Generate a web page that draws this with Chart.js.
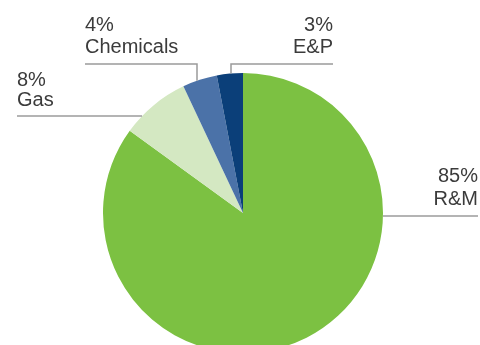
<!DOCTYPE html>
<html lang="en">
<head>
  <meta charset="UTF-8">
  <title>Segment share pie</title>
  <script src="https://cdn.jsdelivr.net/npm/chart.js"></script>
  <style>
    body {
      margin: 0;
      background: #ffffff;
      overflow: hidden; /* pie runs off the bottom edge */
    }
    .wrap {
      width: 480px;
      height: 360px;
    }
  </style>
</head>
<body>

<div class="wrap">
  <canvas id="pieChart" width="480" height="360"></canvas>
</div>

<script>
  // data
  const categories = ['R&M', 'Gas', 'Chemicals', 'E&P'];
  const shares = [85, 8, 4, 3];
  const sliceColors = ['#7cc142', '#d4e8c2', '#4b72a8', '#0b3f79'];

  // where each label + leader line sits (text left/right edge, baselines, line y)
  const labelSpots = [
    { align: 'right', x: 478, pctY: 182, nameY: 205, lineY: 216, side: 'right' },
    { align: 'left',  x: 17,  pctY: 86,  nameY: 106, lineY: 116, side: 'left' },
    { align: 'left',  x: 85,  pctY: 31,  nameY: 53,  lineY: 64,  side: 'down', downX: 197 },
    { align: 'right', x: 333, pctY: 31,  nameY: 53,  lineY: 64,  side: 'down', downX: 231 }
  ];

  const leaderLabels = {
    id: 'leaderLabels',
    afterDatasetsDraw(chart) {
      const ctx = chart.ctx;
      const arc = chart.getDatasetMeta(0).data[0];
      const cx = arc.x, cy = arc.y, r = arc.outerRadius;

      ctx.save();
      ctx.strokeStyle = '#9b9b9b';
      ctx.lineWidth = 1.5;
      labelSpots.forEach((s, i) => {
        ctx.beginPath();
        if (s.side === 'right') {
          const edge = cx + Math.sqrt(r * r - (s.lineY - cy) ** 2);
          ctx.moveTo(s.x, s.lineY);
          ctx.lineTo(edge, s.lineY);
        } else if (s.side === 'left') {
          const edge = cx - Math.sqrt(r * r - (s.lineY - cy) ** 2);
          ctx.moveTo(s.x, s.lineY);
          ctx.lineTo(edge, s.lineY);
        } else {
          const edge = cy - Math.sqrt(r * r - (s.downX - cx) ** 2);
          ctx.moveTo(s.x, s.lineY);
          ctx.lineTo(s.downX, s.lineY);
          ctx.lineTo(s.downX, edge);
        }
        ctx.stroke();

        ctx.fillStyle = '#3b3b3b';
        ctx.font = '20px "Liberation Sans", Arial, sans-serif';
        ctx.textAlign = s.align;
        ctx.textBaseline = 'alphabetic';
        ctx.fillText(shares[i] + '%', s.x, s.pctY);
        ctx.fillText(categories[i], s.x, s.nameY);
      });
      ctx.restore();
    }
  };

  new Chart(document.getElementById('pieChart'), {
    type: 'pie',
    data: {
      labels: categories,
      datasets: [{
        data: shares,
        backgroundColor: sliceColors,
        borderWidth: 0
      }]
    },
    options: {
      responsive: false,
      animation: false,
      layout: {
        padding: { top: 73, bottom: 7, left: 102, right: 96 }
      },
      plugins: {
        legend: { display: false },
        tooltip: { enabled: false }
      }
    },
    plugins: [leaderLabels]
  });
</script>

</body>
</html>
